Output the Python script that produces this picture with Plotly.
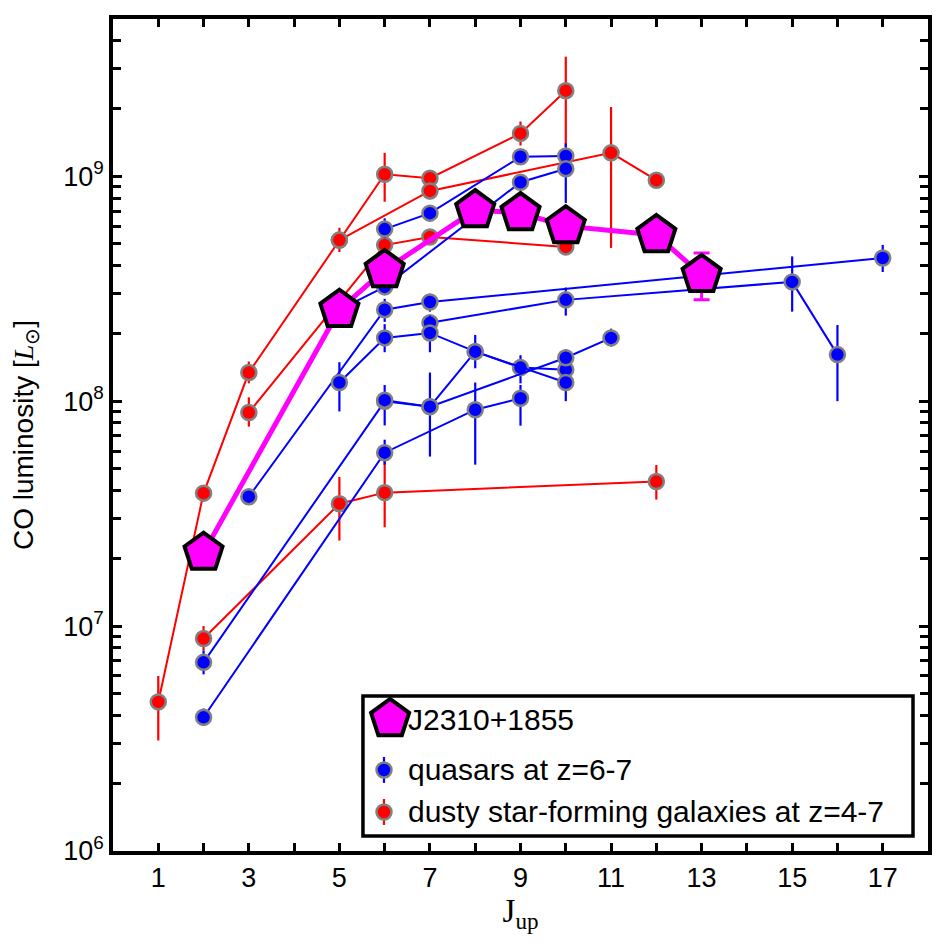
import numpy as np
import plotly.graph_objects as go

# J2310+1855 CO SLED (magenta pentagons)
j2310_j = [2, 5, 6, 8, 9, 10, 12, 13]
j2310_L = [2.12e7, 2.55e8, 3.83e8, 7.07e8, 6.86e8, 6.0e8, 5.48e8, 3.64e8]
j2310_hi = [2.12e7, 2.55e8, 3.83e8, 7.07e8, 6.86e8, 6.0e8, 5.48e8, 4.56e8]
j2310_lo = [2.12e7, 2.55e8, 3.83e8, 7.07e8, 6.86e8, 6.0e8, 5.48e8, 2.82e8]

# dusty star-forming galaxies at z=4-7 (red)
r1_j = [1, 2, 3, 5, 6, 7, 9, 10]
r1_L = [4.6e6, 3.9e7, 1.34e8, 5.2e8, 1.02e9, 9.8e8, 1.55e9, 2.4e9]
r1_hi = [6.0e6, 4.2e7, 1.5e8, 5.9e8, 1.27e9, 1.05e9, 1.75e9, 3.4e9]
r1_lo = [3.1e6, 3.6e7, 1.2e8, 4.6e8, 7.7e8, 9.0e8, 1.37e9, 1.35e9]

r2_j = [5, 7, 11, 12]
r2_L = [5.2e8, 8.6e8, 1.27e9, 9.6e8]
r2_hi = [5.2e8, 9.6e8, 2.03e9, 9.6e8]
r2_lo = [5.2e8, 7.9e8, 4.8e8, 9.6e8]

r3_j = [3, 6, 7, 10]
r3_L = [8.9e7, 4.94e8, 5.37e8, 4.85e8]
r3_hi = [1.04e8, 5.3e8, 5.8e8, 4.85e8]
r3_lo = [7.7e7, 4.6e8, 5.0e8, 4.85e8]

r4_j = [2, 5, 6, 12]
r4_L = [8.8e6, 3.5e7, 3.92e7, 4.39e7]
r4_hi = [1.0e7, 4.6e7, 6.1e7, 5.2e7]
r4_lo = [7.8e6, 2.4e7, 2.75e7, 3.65e7]

# quasars at z=6-7 (blue)
b1_j = [6, 7, 9, 10]
b1_L = [5.82e8, 6.85e8, 1.22e9, 1.23e9]
b1_hi = [6.5e8, 7.4e8, 1.22e9, 1.4e9]
b1_lo = [5.3e8, 6.3e8, 1.22e9, 1.1e9]

b2_j = [5, 6, 9, 10]
b2_L = [2.55e8, 3.22e8, 9.4e8, 1.08e9]
b2_hi = [2.55e8, 3.22e8, 9.4e8, 1.2e9]
b2_lo = [2.55e8, 3.22e8, 9.4e8, 7.6e8]

b3_j = [3, 6, 7, 17]
b3_L = [3.76e7, 2.55e8, 2.76e8, 4.33e8]
b3_hi = [3.76e7, 2.85e8, 3.0e8, 4.95e8]
b3_lo = [3.76e7, 2.25e8, 2.5e8, 3.75e8]

b4_j = [7, 10, 15, 16]
b4_L = [2.23e8, 2.82e8, 3.39e8, 1.61e8]
b4_hi = [2.23e8, 3.2e8, 4.4e8, 2.18e8]
b4_lo = [2.23e8, 2.4e8, 2.5e8, 1.0e8]

b5_j = [5, 6, 7, 8, 9, 10]
b5_L = [1.21e8, 1.91e8, 2.01e8, 1.66e8, 1.41e8, 1.38e8]
b5_hi = [1.49e8, 2.2e8, 2.4e8, 1.97e8, 1.6e8, 1.38e8]
b5_lo = [9.0e7, 1.65e8, 1.65e8, 1.4e8, 1.2e8, 1.38e8]

b6_j = [2, 6, 7, 8, 10]
b6_L = [6.9e6, 9.98e7, 9.45e7, 1.66e8, 1.21e8]
b6_hi = [7.8e6, 1.18e8, 1.34e8, 1.66e8, 1.21e8]
b6_lo = [6.1e6, 7.8e7, 5.67e7, 1.66e8, 1.0e8]

b7_j = [2, 6, 8, 9]
b7_L = [3.93e6, 5.9e7, 9.16e7, 1.03e8]
b7_hi = [4.3e6, 6.74e7, 1.21e8, 1.18e8]
b7_lo = [3.6e6, 5.22e7, 5.22e7, 7.78e7]

b8_j = [6, 7, 10, 11]
b8_L = [1.01e8, 9.45e7, 1.56e8, 1.91e8]
b8_hi = [1.01e8, 9.45e7, 1.7e8, 2.1e8]
b8_lo = [1.01e8, 9.45e7, 1.56e8, 1.75e8]

red_series = [(r1_j, r1_L, r1_hi, r1_lo), (r2_j, r2_L, r2_hi, r2_lo),
              (r3_j, r3_L, r3_hi, r3_lo), (r4_j, r4_L, r4_hi, r4_lo)]
blue_series = [(b1_j, b1_L, b1_hi, b1_lo), (b2_j, b2_L, b2_hi, b2_lo),
               (b3_j, b3_L, b3_hi, b3_lo), (b4_j, b4_L, b4_hi, b4_lo),
               (b5_j, b5_L, b5_hi, b5_lo), (b6_j, b6_L, b6_hi, b6_lo),
               (b7_j, b7_L, b7_hi, b7_lo), (b8_j, b8_L, b8_hi, b8_lo)]

legend_labels = ["J2310+1855", "quasars at z=6-7", "dusty star-forming galaxies at z=4-7"]

FONT = "Liberation Sans, Arial, Helvetica, sans-serif"
SERIF = "Liberation Serif, DejaVu Serif, serif"
GREY = "#808080"
MAGENTA = "#ff00ff"


def add_sled(fig, j, L, hi, lo, color):
    L = np.array(L)
    fig.add_trace(go.Scatter(
        x=j, y=L, mode="lines+markers",
        line=dict(color=color, width=2),
        marker=dict(symbol="circle", size=15, color=color,
                    line=dict(color=GREY, width=2.5)),
        error_y=dict(type="data", symmetric=False,
                     array=np.array(hi) - L, arrayminus=L - np.array(lo),
                     color=color, thickness=2.2, width=0),
        showlegend=False))


fig = go.Figure()

for s in red_series:
    add_sled(fig, *s, "#ff0000")
for s in blue_series:
    add_sled(fig, *s, "#0000ff")

L = np.array(j2310_L)
fig.add_trace(go.Scatter(
    x=j2310_j, y=L, mode="lines+markers",
    line=dict(color=MAGENTA, width=5),
    marker=dict(symbol="pentagon", size=40, color=MAGENTA,
                line=dict(color="black", width=4)),
    error_y=dict(type="data", symmetric=False,
                 array=np.array(j2310_hi) - L, arrayminus=L - np.array(j2310_lo),
                 color=MAGENTA, thickness=3, width=8),
    showlegend=False))

# hand-drawn legend (matplotlib style, big pentagon) on an overlay axis in box units
fig.add_trace(go.Scatter(
    x=[0.340], y=[0.1587], mode="markers", xaxis="x2", yaxis="y2",
    marker=dict(symbol="pentagon", size=40, color=MAGENTA,
                line=dict(color="black", width=4)),
    showlegend=False, hoverinfo="skip"))
fig.add_trace(go.Scatter(
    x=[0.3325], y=[0.0974], mode="markers", xaxis="x2", yaxis="y2",
    marker=dict(symbol="circle", size=15, color="#0000ff",
                line=dict(color=GREY, width=2.5)),
    error_y=dict(type="constant", value=0.0156, color="#0000ff", thickness=2.2, width=0),
    showlegend=False, hoverinfo="skip"))
fig.add_trace(go.Scatter(
    x=[0.3325], y=[0.0469], mode="markers", xaxis="x2", yaxis="y2",
    marker=dict(symbol="circle", size=15, color="#ff0000",
                line=dict(color=GREY, width=2.5)),
    error_y=dict(type="constant", value=0.0156, color="#ff0000", thickness=2.2, width=0),
    showlegend=False, hoverinfo="skip"))

fig.add_shape(type="rect", xref="paper", yref="paper",
              x0=0.3067, x1=0.9816, y0=0.018, y1=0.1863,
              line=dict(color="black", width=3.5), fillcolor="white", layer="below")
for label, ty in zip(legend_labels, [0.1575, 0.0974, 0.0480]):
    fig.add_annotation(text=label, xref="paper", yref="paper", x=0.3595, y=ty,
                       xanchor="left", yanchor="middle", showarrow=False,
                       font=dict(family=FONT, size=30, color="black"))

y_major = [1e6, 1e7, 1e8, 1e9]
y_minor = [k * 10 ** d for d in range(6, 10) for k in range(2, 10) if k * 10 ** d <= 5e9]

fig.update_xaxes(
    range=[0, 18], tickvals=list(range(1, 18, 2)),
    ticks="inside", ticklen=8, tickwidth=3, tickcolor="black",
    minor=dict(tickvals=list(range(1, 18)), ticks="inside", ticklen=8,
               tickwidth=3, tickcolor="black"),
    showline=True, linewidth=3.5, linecolor="black", mirror="allticks",
    showgrid=False, zeroline=False,
    tickfont=dict(family=FONT, size=27, color="black"),
    title=dict(text="J<sub>up</sub>", standoff=8,
               font=dict(family=SERIF, size=33, color="black")))

fig.update_yaxes(
    type="log", range=[6, np.log10(5e9)],
    tickvals=y_major, ticktext=["10<sup>6</sup>", "10<sup>7</sup>", "10<sup>8</sup>", "10<sup>9</sup>"],
    ticks="inside", ticklen=9, tickwidth=3, tickcolor="black",
    minor=dict(tickvals=y_minor, ticks="inside", ticklen=8,
               tickwidth=3, tickcolor="black"),
    showline=True, linewidth=3.5, linecolor="black", mirror="allticks",
    showgrid=False, zeroline=False,
    tickfont=dict(family=FONT, size=27, color="black"),
    title=dict(text="CO luminosity [<span style='font-family:Liberation Serif'><i>L</i></span><sub>⊙</sub>]",
               standoff=22, font=dict(family=FONT, size=28, color="black")))

fig.update_layout(
    width=939, height=939,
    margin=dict(l=105, r=19, t=11, b=96, autoexpand=False),
    plot_bgcolor="white", paper_bgcolor="white",
    showlegend=False,
    xaxis2=dict(overlaying="x", anchor="y2", range=[0, 1], visible=False, fixedrange=True),
    yaxis2=dict(overlaying="y", anchor="x2", range=[0, 1], visible=False, fixedrange=True),
)

fig.write_html("out.html")
